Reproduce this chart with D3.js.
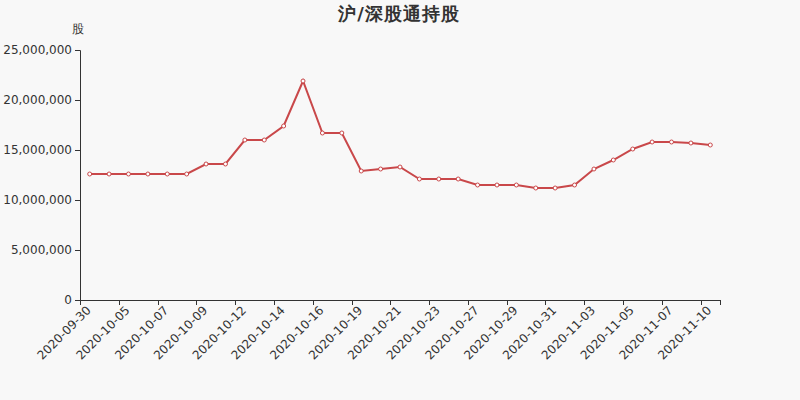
<!DOCTYPE html>
<html><head><meta charset="utf-8">
<script src="https://cdn.jsdelivr.net/npm/d3@7"></script>
<style>body{margin:0;background:#f8f8f8;}svg{display:block;font-family:"DejaVu Sans",sans-serif;}</style>
</head><body><svg id="c" width="800" height="400"></svg>
<script>
const dates = ["2020-09-30","2020-10-02","2020-10-05","2020-10-06","2020-10-07","2020-10-08","2020-10-09","2020-10-10","2020-10-12","2020-10-13","2020-10-14","2020-10-15","2020-10-16","2020-10-17","2020-10-19","2020-10-20","2020-10-21","2020-10-22","2020-10-23","2020-10-26","2020-10-27","2020-10-28","2020-10-29","2020-10-30","2020-10-31","2020-11-02","2020-11-03","2020-11-04","2020-11-05","2020-11-06","2020-11-07","2020-11-09","2020-11-10"];
const holdings = [12600000,12600000,12600000,12600000,12600000,12600000,13600000,13600000,16000000,16000000,17400000,21900000,16700000,16700000,12900000,13100000,13300000,12100000,12100000,12100000,11500000,11500000,11500000,11200000,11200000,11500000,13100000,14000000,15100000,15800000,15800000,15700000,15500000];
const yTicks = [0,5000000,10000000,15000000,20000000,25000000];
const title = "沪/深股通持股";
const yUnit = "股";

const svg = d3.select("#c");
const L=80,R=720,T=50,B=300;
const x = d3.scaleBand().domain(dates).range([L,R]);
const y = d3.scaleLinear().domain([0,25000000]).range([B,T]);
const axisColor="#333";
const lineColor="#c9484a";
const cx = d=>x(d)+x.bandwidth()/2;

svg.append("text").attr("x",399).attr("y",20).attr("text-anchor","middle")
  .attr("font-size",18).attr("font-weight","bold").attr("letter-spacing",1).attr("fill","#333").text(title);
svg.append("text").attr("x",78).attr("y",33).attr("text-anchor","middle")
  .attr("font-size",12).attr("fill","#333").text(yUnit);

// y axis
const yAxis = d3.axisLeft(y).tickValues(yTicks).tickSize(5).tickPadding(3).tickFormat(d3.format(","));
const gy = svg.append("g").attr("transform",`translate(${L},0)`).call(yAxis);
gy.select(".domain").attr("stroke",axisColor);
gy.selectAll(".tick line").attr("stroke",axisColor);
gy.selectAll(".tick text").attr("fill","#333").attr("font-size",12).attr("font-family","DejaVu Sans");

// x axis
const gx = svg.append("g");
gx.append("line").attr("x1",L).attr("x2",R).attr("y1",B+0.5).attr("y2",B+0.5).attr("stroke",axisColor);
const labelIdx = dates.map((d,i)=>i).filter(i=>i%2===0);
const tickXs = labelIdx.map(i=>x(dates[i])).concat([R]);
gx.selectAll("line.t").data(tickXs).enter().append("line")
  .attr("x1",d=>Math.round(d)+0.5).attr("x2",d=>Math.round(d)+0.5).attr("y1",B).attr("y2",B+5).attr("stroke",axisColor);
gx.selectAll("text").data(labelIdx).enter().append("text")
  .attr("transform",i=>`translate(${cx(dates[i])-1},${B+8}) rotate(-45)`)
  .attr("text-anchor","end").attr("dy","0.35em").attr("font-size",12).attr("fill","#333")
  .text(i=>dates[i]);

// line
const line = d3.line().x((v,i)=>cx(dates[i])).y(v=>y(v));
svg.append("path").datum(holdings).attr("d",line).attr("fill","none").attr("stroke",lineColor).attr("stroke-width",2);
svg.selectAll("circle").data(holdings).enter().append("circle")
  .attr("cx",(v,i)=>cx(dates[i])).attr("cy",v=>y(v)).attr("r",2)
  .attr("fill","#fff").attr("stroke",lineColor).attr("stroke-width",1);
</script></body></html>
